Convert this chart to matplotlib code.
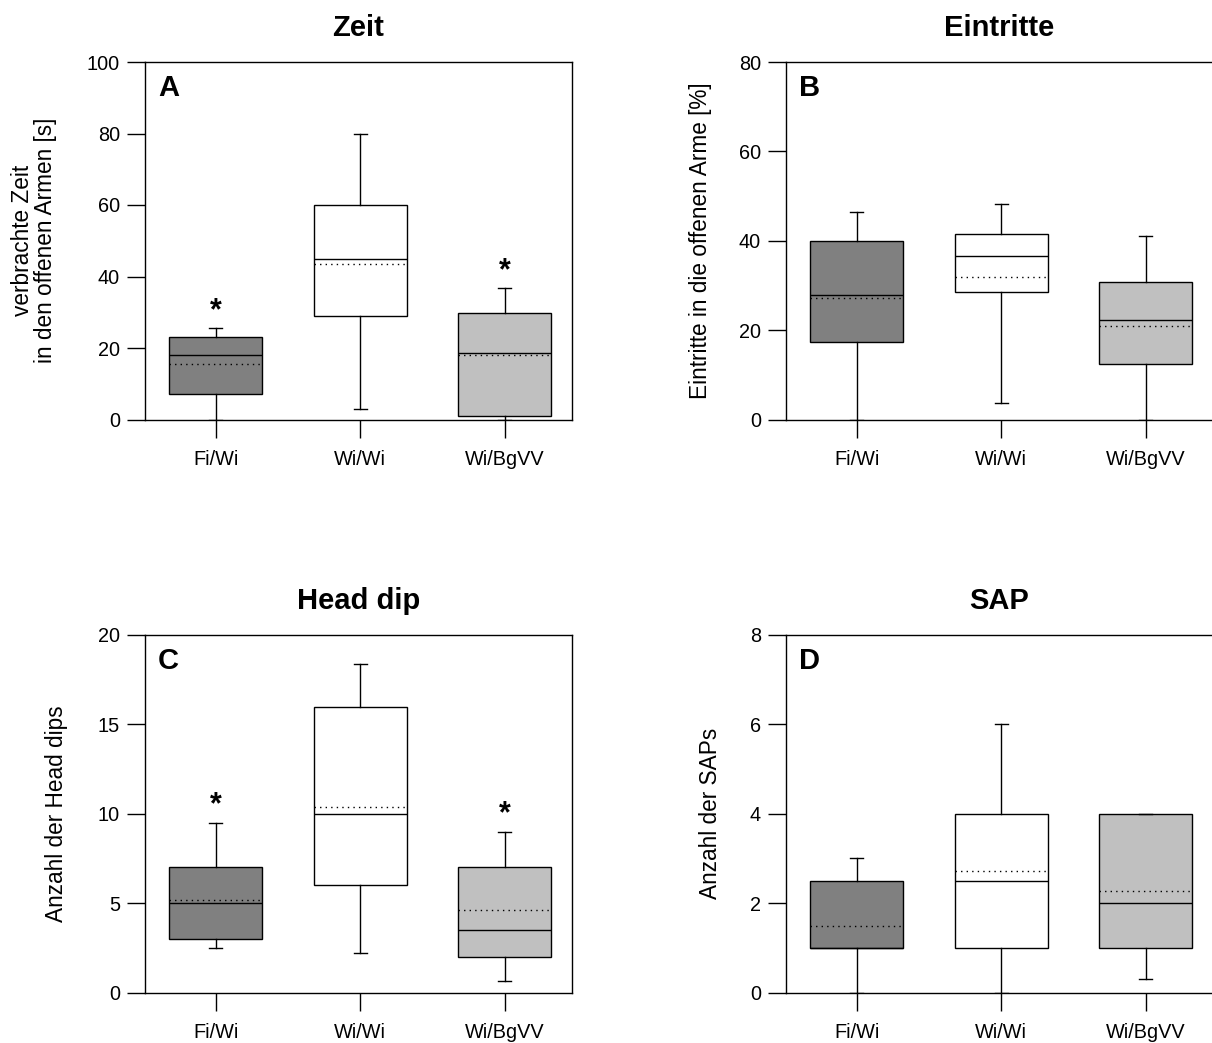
import matplotlib

matplotlib.use("Agg")
import matplotlib.pyplot as plt

plt.rcParams["font.family"] = ["Liberation Sans", "DejaVu Sans"]

groups = ["Fi/Wi", "Wi/Wi", "Wi/BgVV"]
box_colors = ["#808080", "#ffffff", "#c0c0c0"]

# per panel: (whislo, q1, med, q3, whishi, mean) for each group
zeit = [(0, 7.0, 18.1, 23.0, 25.6, 15.4),
        (2.8, 29.0, 45.0, 60.0, 80.0, 43.6),
        (0, 0.9, 18.6, 29.9, 36.7, 18.0)]
eintritte = [(0, 17.4, 27.9, 39.9, 46.4, 27.3),
             (3.8, 28.6, 36.6, 41.6, 48.3, 31.9),
             (0, 12.5, 22.2, 30.7, 41.0, 21.0)]
headdip = [(2.48, 3.0, 4.98, 7.0, 9.5, 5.17),
           (2.2, 6.0, 10.0, 16.0, 18.4, 10.4),
           (0.62, 2.0, 3.5, 7.0, 9.0, 4.6)]
sap = [(0, 1.0, 1.0, 2.49, 3.0, 1.49),
       (0, 1.0, 2.49, 4.0, 6.0, 2.72),
       (0.3, 1.0, 2.0, 4.0, 4.0, 2.28)]

# significance stars: (group index, y)
stars_zeit = [(0, 30.3), (2, 41.5)]
stars_headdip = [(0, 10.5), (2, 10.0)]

panels = [
    dict(title="Zeit", letter="A", data=zeit, ymax=100, yticks=[0, 20, 40, 60, 80, 100],
         ylabel="verbrachte Zeit\nin den offenen Armen [s]", stars=stars_zeit,
         pos=[145, 62], full=True, labx=-0.205),
    dict(title="Eintritte", letter="B", data=eintritte, ymax=80, yticks=[0, 20, 40, 60, 80],
         ylabel="Eintritte in die offenen Arme [%]", stars=[],
         pos=[786, 62], full=False, labx=-0.173),
    dict(title="Head dip", letter="C", data=headdip, ymax=20, yticks=[0, 5, 10, 15, 20],
         ylabel="Anzahl der Head dips", stars=stars_headdip,
         pos=[145, 635], full=True, labx=-0.180),
    dict(title="SAP", letter="D", data=sap, ymax=8, yticks=[0, 2, 4, 6, 8],
         ylabel="Anzahl der SAPs", stars=[],
         pos=[786, 635], full=False, labx=-0.150),
]

W, H = 1212, 1043
fig = plt.figure(figsize=(W / 100, H / 100), dpi=100)

for p in panels:
    left, top = p["pos"]
    ax = fig.add_axes([left / W, (H - top - 357.5) / H, 427 / W, 357.5 / H])
    stats = []
    for g, (lo, q1, med, q3, hi, mean) in zip(groups, p["data"]):
        stats.append(dict(label=g, whislo=lo, q1=q1, med=med, q3=q3,
                          whishi=hi, mean=mean, fliers=[]))
    bp = ax.bxp(stats, positions=[0, 1, 2], widths=0.645, patch_artist=True,
                showmeans=True, meanline=True, showfliers=False, capwidths=0.09,
                boxprops=dict(edgecolor="black", linewidth=1.0),
                medianprops=dict(color="black", linewidth=1.0),
                meanprops=dict(color="black", linestyle=(0, (1, 3)), linewidth=1.0),
                whiskerprops=dict(color="black", linewidth=1.0),
                capprops=dict(color="black", linewidth=1.0),
                zorder=1)
    for patch, c in zip(bp["boxes"], box_colors):
        patch.set_facecolor(c)

    for gi, y in p["stars"]:
        ax.text(gi, y, "*", ha="center", va="center", fontsize=22,
                fontweight="bold")

    ax.set_xlim(-0.49, 2.465)
    ax.set_ylim(0, p["ymax"])
    ax.set_yticks(p["yticks"])
    ax.set_xticks([0, 1, 2])
    ax.set_xticklabels(groups)
    ax.tick_params(axis="both", direction="out", length=13, width=1.0,
                   labelsize=14.3, color="black")
    ax.tick_params(axis="y", pad=5)
    ax.tick_params(axis="x", pad=9)
    for s in ax.spines.values():
        s.set_linewidth(1.0)
        s.set_zorder(3)
    if not p["full"]:
        ax.spines["right"].set_visible(False)
    ax.set_title(p["title"], fontsize=21, fontweight="bold", pad=19)
    ax.text(0.03, 0.926, p["letter"], transform=ax.transAxes, fontsize=21,
            fontweight="bold", ha="left", va="center")
    ax.set_ylabel(p["ylabel"], fontsize=16.3, linespacing=1.05)
    ax.yaxis.set_label_coords(p["labx"], 0.5)

fig.savefig("out.png", dpi=100)
